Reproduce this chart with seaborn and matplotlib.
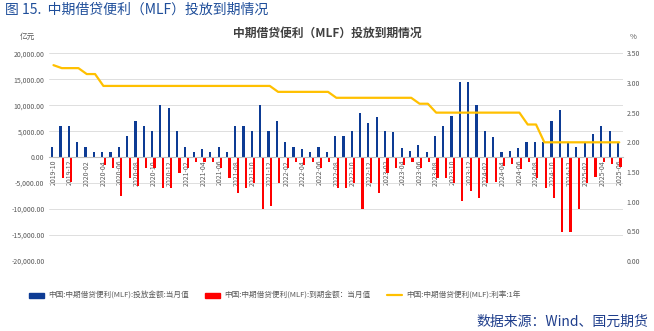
import numpy as np
import pandas as pd
import matplotlib
matplotlib.use("Agg")
import matplotlib.pyplot as plt
from matplotlib.patches import Patch
from matplotlib.lines import Line2D
from matplotlib.ticker import FuncFormatter
import seaborn as sns

sns.set_style("white")
plt.rcParams['font.family'] = ['Noto Sans CJK SC', 'DejaVu Sans']

months = [
    "2019-10", "2019-11", "2019-12",
    "2020-01", "2020-02", "2020-03", "2020-04", "2020-05", "2020-06",
    "2020-07", "2020-08", "2020-09", "2020-10", "2020-11", "2020-12",
    "2021-01", "2021-02", "2021-03", "2021-04", "2021-05", "2021-06",
    "2021-07", "2021-08", "2021-09", "2021-10", "2021-11", "2021-12",
    "2022-01", "2022-02", "2022-03", "2022-04", "2022-05", "2022-06",
    "2022-07", "2022-08", "2022-09", "2022-10", "2022-11", "2022-12",
    "2023-01", "2023-02", "2023-03", "2023-04", "2023-05", "2023-06",
    "2023-07", "2023-08", "2023-09", "2023-10", "2023-11", "2023-12",
    "2024-01", "2024-02", "2024-03", "2024-04", "2024-05", "2024-06",
    "2024-07", "2024-08", "2024-09", "2024-10", "2024-11", "2024-12",
    "2025-01", "2025-02", "2025-03", "2025-04", "2025-05", "2025-06",
]

invest = [
    2000, 6000, 6000,
    3000, 2000, 1000, 1000, 1000, 2000,
    4000, 7000, 6000, 5000, 10000, 9500,
    5000, 2000, 1000, 1500, 1000, 2000,
    1000, 6000, 6000, 5000, 10000, 5000,
    7000, 3000, 2000, 1500, 1000, 2000,
    1000, 4000, 4000, 5000, 8500, 6500,
    7790, 4990, 4810, 1700, 1250, 2370,
    1030, 4010, 5910, 7890, 14500, 14500,
    9950, 5000, 3870, 1000, 1250, 1820,
    3000, 3000, 3000, 7000, 9000, 3000,
    2000, 3000, 4500, 6000, 5000, 3000,
]

expire = [
    0, -4000, -4800,
    0, 0, 0, -1500, -2000, -7400,
    -4000, -5500, -2000, -2000, -6000, -6000,
    -3000, -2000, -1000, -1000, -1000, -2000,
    -4000, -7000, -6000, -5000, -10000, -9500,
    -5000, -2000, -1000, -1500, -1000, -2000,
    -1000, -6000, -6000, -5000, -10000, -5000,
    -7000, -3000, -2000, -1500, -1000, -2000,
    -1000, -4000, -4000, -5000, -8500, -6500,
    -7790, -4990, -4810, -1700, -1250, -2370,
    -1030, -4010, -5910, -7890, -14500, -14500,
    -9950, -5000, -3870, -1000, -1250, -1820,
]

rate = [
    3.30, 3.25, 3.25,
    3.25, 3.15, 3.15, 2.95, 2.95, 2.95,
    2.95, 2.95, 2.95, 2.95, 2.95, 2.95,
    2.95, 2.95, 2.95, 2.95, 2.95, 2.95,
    2.95, 2.95, 2.95, 2.95, 2.95, 2.95,
    2.85, 2.85, 2.85, 2.85, 2.85, 2.85,
    2.85, 2.75, 2.75, 2.75, 2.75, 2.75,
    2.75, 2.75, 2.75, 2.75, 2.75, 2.65,
    2.65, 2.50, 2.50, 2.50, 2.50, 2.50,
    2.50, 2.50, 2.50, 2.50, 2.50, 2.50,
    2.30, 2.30, 2.00, 2.00, 2.00, 2.00,
    2.00, 2.00, 2.00, 2.00, 2.00, 2.00,
]

lab_inv = "中国:中期借贷便利(MLF):投放金额:当月值"
lab_exp = "中国:中期借贷便利(MLF):到期金额：当月值"
lab_rate = "中国:中期借贷便利(MLF):利率:1年"

BLUE = "#0D3B94"
RED = "#FF0000"
GOLD = "#FFC000"
GRAY = "#595959"

df = pd.DataFrame({
    "month": months * 2,
    "value": invest + expire,
    "series": [lab_inv] * len(months) + [lab_exp] * len(months),
})

fig = plt.figure(figsize=(6.54, 3.31), dpi=100)
ax = fig.add_axes([0.0754, 0.2115, 0.8778, 0.6275])

sns.barplot(data=df, x="month", y="value", hue="series",
            hue_order=[lab_inv, lab_exp], order=months,
            palette=[BLUE, RED], saturation=1, width=0.6, gap=0.12,
            errorbar=None, legend=False, linewidth=0, ax=ax)

ax2 = ax.twinx()
sns.lineplot(x=np.arange(len(months)), y=rate, ax=ax2, color=GOLD,
             linewidth=1.6, legend=False)

ax.set_xlim(-0.5, len(months) - 0.5)
ax.set_ylim(-20000, 20000)
ax.set_yticks(np.arange(-20000, 20001, 5000))
ax.yaxis.set_major_formatter(FuncFormatter(lambda v, p: f"{v:,.2f}"))
ax2.set_ylim(0, 3.5)
ax2.set_yticks(np.arange(0, 3.51, 0.5))
ax2.yaxis.set_major_formatter(FuncFormatter(lambda v, p: f"{v:.2f}"))

for s in ["left", "right", "top"]:
    ax.spines[s].set_visible(False)
ax.spines["bottom"].set_position(("data", 0))
ax.spines["bottom"].set_color("#BFBFBF")
ax.spines["bottom"].set_linewidth(0.8)
for s in ax2.spines.values():
    s.set_visible(False)

ax.set_xlabel("")
ax.set_ylabel("")
ax2.set_ylabel("")
ax.set_xticks(range(0, len(months), 2))
ax.set_xticklabels(months[::2])
ax.tick_params(axis="x", length=0, pad=2, labelrotation=90, labelsize=5,
               labelcolor=GRAY)
ax.tick_params(axis="y", length=0, pad=3.5, labelsize=5, labelcolor=GRAY)
ax2.tick_params(axis="y", length=0, pad=2.5, labelsize=5, labelcolor=GRAY)

ax.yaxis.grid(True, color="#D9D9D9", linewidth=0.6)
ax.xaxis.grid(False)
ax.set_axisbelow(True)

fig.text(20 / 654, 1 - 37 / 331, "亿元", fontsize=5.5, color=GRAY, ha="left", va="center")
fig.text(633 / 654, 1 - 37 / 331, "%", fontsize=5.5, color=GRAY, ha="center", va="center")
fig.text(0.5, 1 - 33 / 331, "中期借贷便利（MLF）投放到期情况", fontsize=8.5,
         fontweight="bold", color="#404040", ha="center", va="center")
fig.text(5 / 654, 1 - 10 / 331, "图 15.  中期借贷便利（MLF）投放到期情况", fontsize=10,
         color="#1F4E9A", ha="left", va="center")
fig.text(648 / 654, 1 - 322 / 331, "数据来源：Wind、国元期货", fontsize=10,
         color="#1F3E8C", ha="right", va="center")

handles = [Patch(facecolor=BLUE, edgecolor=BLUE),
           Patch(facecolor=RED, edgecolor=RED),
           Line2D([0], [0], color=GOLD, linewidth=1.6)]
leg = fig.legend(handles, [lab_inv, lab_exp, lab_rate], loc="center",
                 bbox_to_anchor=(0.42, 1 - 296 / 331), ncol=3, frameon=False,
                 fontsize=5.5, handlelength=2.0, handleheight=0.7,
                 columnspacing=2.2, handletextpad=0.5)
for t in leg.get_texts():
    t.set_color(GRAY)

fig.savefig("out.png", dpi=100)
